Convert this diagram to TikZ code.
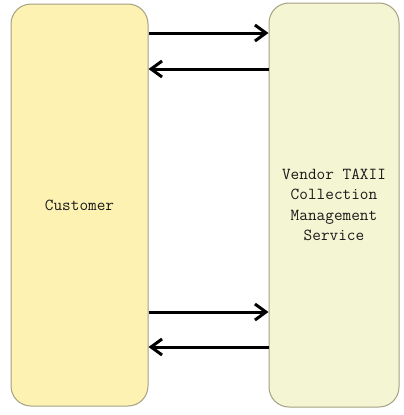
\documentclass[tikz,border=0pt]{standalone}
\usetikzlibrary{arrows.meta}
\definecolor{custfill}{RGB}{253,242,178}
\definecolor{vendfill}{RGB}{244,245,210}
\definecolor{boxline}{RGB}{165,160,130}
\begin{document}
\begin{tikzpicture}[x=1pt,y=-1pt,
  every node/.style = {draw=boxline, line width=1pt,
    rounded corners=20pt, align=center, text=black!90,
    font=\ttfamily\fontsize{16.8}{20.5}\selectfont,
    inner sep=0pt},
  flow/.style = {line width=3pt,
    -{Straight Barb[length=11pt,width=16pt]}}]
\useasboundingbox (0,0) rectangle (404,415);
\node[fill=custfill, minimum width=137pt, minimum height=402pt]
  (cust) at (79.5,205) {Customer};
\node[fill=vendfill, minimum width=130pt, minimum height=404pt]
  (vend) at (334,205) {Vendor TAXII\\Collection\\Management\\Service};
\draw[flow] (cust.east |- 0,33) -- (vend.west |- 0,33);
\draw[flow] (vend.west |- 0,69) -- (cust.east |- 0,69);
\draw[flow] (cust.east |- 0,312) -- (vend.west |- 0,312);
\draw[flow] (vend.west |- 0,347) -- (cust.east |- 0,347);
\end{tikzpicture}
\end{document}
